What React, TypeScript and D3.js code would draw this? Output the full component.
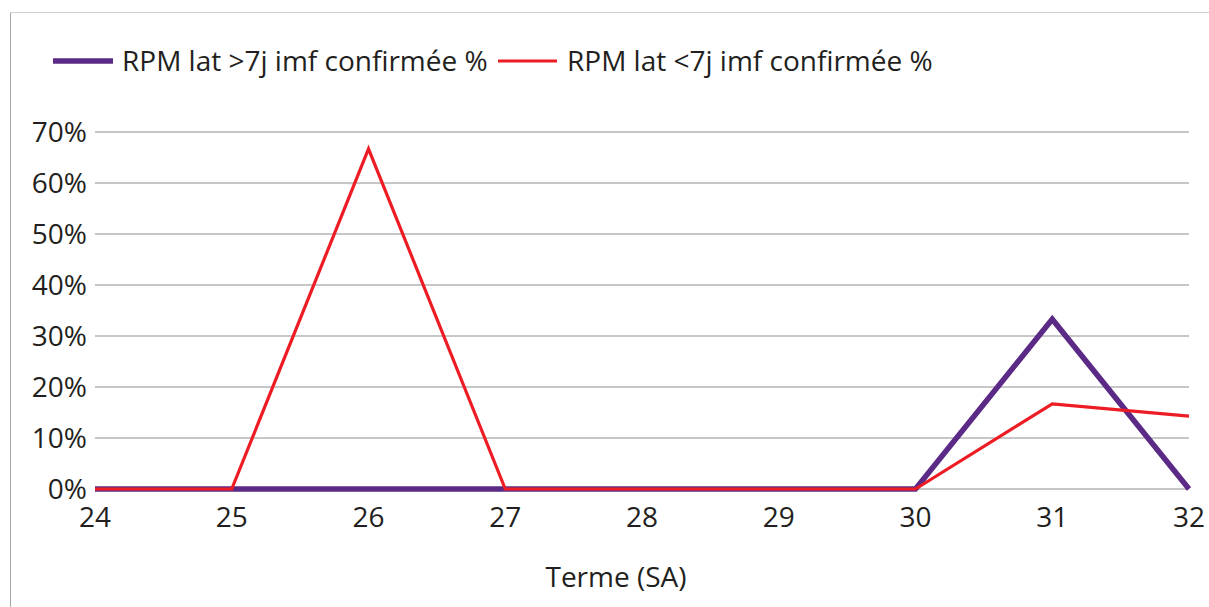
import * as d3 from 'd3'
import { useMemo } from 'react'

const weeks = [24, 25, 26, 27, 28, 29, 30, 31, 32]
const over7 = [0, 0, 0, 0, 0, 0, 0, 33.3, 0]
const under7 = [0, 0, 66.7, 0, 0, 0, 0, 16.7, 14.3]
const yTicks = [0, 10, 20, 30, 40, 50, 60, 70]

const seriesNames = ['RPM lat >7j imf confirmée %', 'RPM lat <7j imf confirmée %']
const purple = '#5b2a86'
const red = '#ed1c24'
const font = '"Open Sans", sans-serif'

const App = () => {
    const width = 1209
    const height = 607
    const margin = { left: 95, right: 20, top: 132, bottom: 118 }

    const x = useMemo(() => {
        return d3
            .scaleLinear()
            .domain([24, 32])
            .range([margin.left, width - margin.right])
    }, [])

    const y = useMemo(() => {
        return d3
            .scaleLinear()
            .domain([0, 70])
            .range([height - margin.bottom, margin.top])
    }, [])

    const line = d3
        .line<number>()
        .x((d, i) => x(weeks[i]))
        .y(d => y(d))

    const gridLines = yTicks.map(t => (
        <line key={t} x1={x(24)} x2={x(32)} y1={y(t)} y2={y(t)} stroke="#8e8e8e" strokeWidth={1.2} />
    ))

    const yLabels = yTicks.map(t => (
        <text key={t} x={x(24) - 8} y={y(t)} dy="0.36em" textAnchor="end" fontSize={28} fill="#231f20">
            {t + '%'}
        </text>
    ))

    const xLabels = weeks.map(w => (
        <text key={w} x={x(w)} y={y(0) + 28} dy="0.36em" textAnchor="middle" fontSize={28} fill="#231f20">
            {w}
        </text>
    ))

    return (
        <svg width={width} height={height} style={{ position: 'absolute', left: 0, top: 0, fontFamily: font }}>
            <rect x={0} y={0} width={width} height={height} fill="#fff" />
            <line x1={10.5} x2={10.5} y1={12} y2={height} stroke="#a6a6a6" />
            <line x1={10} x2={width} y1={12.5} y2={12.5} stroke="#d0d0d0" />
            {gridLines}
            {yLabels}
            {xLabels}
            <path d={line(over7)} fill="none" stroke={purple} strokeWidth={5.5} strokeLinejoin="miter" />
            <path d={line(under7)} fill="none" stroke={red} strokeWidth={3.2} strokeLinejoin="miter" />

            <line x1={53} x2={113} y1={61} y2={61} stroke={purple} strokeWidth={5.5} />
            <text x={122} y={61} dy="0.36em" fontSize={28} fill="#231f20">{seriesNames[0]}</text>
            <line x1={498} x2={557} y1={61} y2={61} stroke={red} strokeWidth={3.2} />
            <text x={567} y={61} dy="0.36em" fontSize={28} fill="#231f20">{seriesNames[1]}</text>

            <text x={616} y={577} dy="0.36em" textAnchor="middle" fontSize={28} fill="#231f20">Terme (SA)</text>
        </svg>
    )
}

export default App
